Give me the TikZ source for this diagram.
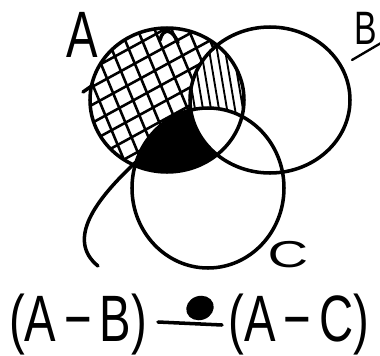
\documentclass[tikz,border=0pt]{standalone}
\usepackage{fontspec}
\setmainfont{Liberation Sans}
\begin{document}
\begin{tikzpicture}[x=0.3mm,y=-0.3mm,line cap=round,line join=round,
  outline/.style={line width=3pt},
  gridline/.style={line width=2.2pt},
  hatchline/.style={line width=1.6pt},
  hand/.style={inner sep=0pt,xscale=0.72,transform shape}]
\useasboundingbox (0,0) rectangle (380,356);
\coordinate (cA) at (167,100);
\coordinate (cB) at (270,100);
\coordinate (cC) at (208,188);
% grid in A
\begin{scope}
  \clip (cA) ellipse [x radius=77, y radius=72];
  \foreach \k in {-8,...,8} {
    \draw[gridline] (167+17*\k-60,-44) -- (167+17*\k+60,244);
    \draw[gridline] (57,100+18*\k+60) -- (277,100+18*\k-60);
  }
  \fill[white] (cB) ellipse [x radius=80, y radius=73];
\end{scope}
% vertical hatch in A and B
\begin{scope}
  \clip (cA) ellipse [x radius=77, y radius=72];
  \clip (cB) ellipse [x radius=80, y radius=73];
  \foreach \k in {0,...,8} {
    \draw[hatchline] (180+8*\k,20) -- (196+8*\k,115);
  }
\end{scope}
% dark region A and C minus B
\begin{scope}
  \clip (cA) ellipse [x radius=77, y radius=72];
  \fill[black] (cC) ellipse [x radius=76, y radius=80];
\end{scope}
\begin{scope}
  \clip (cA) ellipse [x radius=77, y radius=72];
  \clip (cC) ellipse [x radius=76, y radius=80];
  \fill[white] (cB) ellipse [x radius=80, y radius=73];
\end{scope}
% outlines
\draw[outline] (cA) ellipse [x radius=77, y radius=72];
\draw[outline] (cB) ellipse [x radius=80, y radius=73];
\draw[outline] (cC) ellipse [x radius=76, y radius=80];
\draw[outline] (160,40) .. controls (163,27) and (173,29) .. (178,43);
\draw[outline] (83,92) -- (93,85);
\draw[outline] (136,162) .. controls (95,200) and (66,240) .. (98,266);
% labels
\node[hand,font=\fontsize{56}{56}\selectfont] (labA) at (82,35) {A};
\node[hand,font=\fontsize{40}{40}\selectfont] (labB) at (366,28) {B};
\node[inner sep=0pt,xscale=1.5,transform shape,font=\fontsize{32}{32}\selectfont] (labC) at (288,255) {C};
\draw[line width=2pt] (352,60) -- (381,43);
% expression
\node[hand,anchor=base,font=\fontsize{56}{56}\selectfont] (exprL) at (78,341) {(A\,−\,B)};
\node[hand,anchor=base,font=\fontsize{56}{56}\selectfont] (exprR) at (299,341) {(A\,−\,C)};
\draw[outline] (158,322) -- (222,325);
\fill[black,rotate around={20:(200,308)}] (200,308) ellipse [x radius=14, y radius=12];
\end{tikzpicture}
\end{document}
